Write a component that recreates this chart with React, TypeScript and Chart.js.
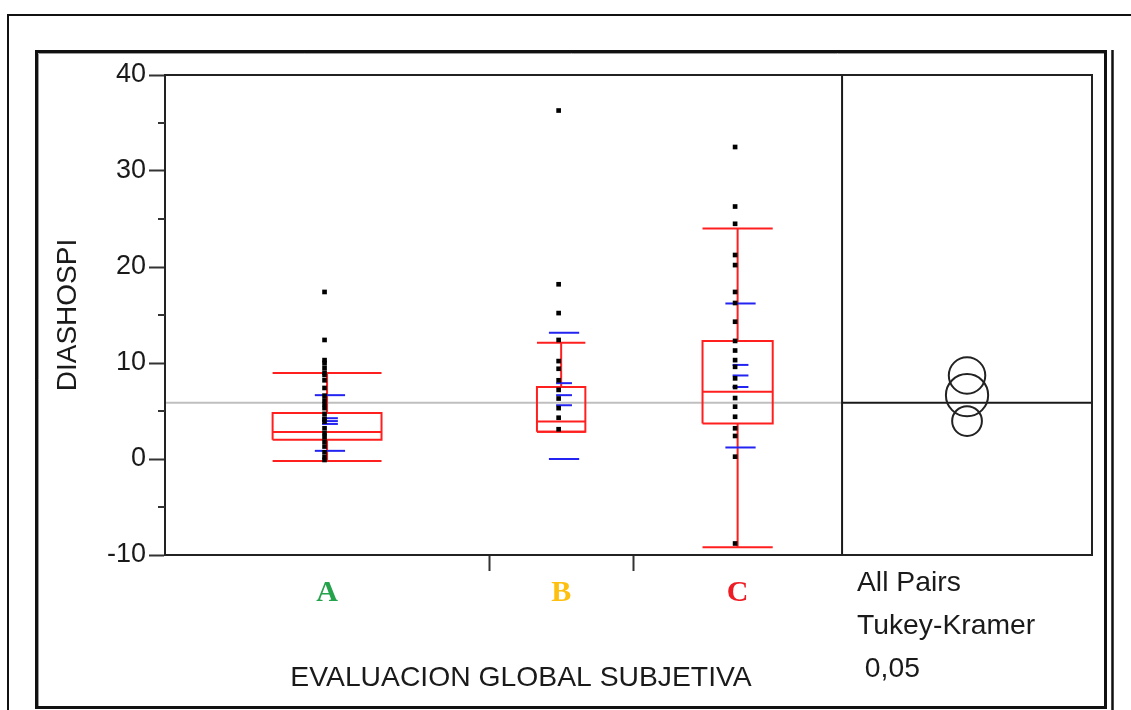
import React, { useEffect, useRef } from 'react';
import { Chart, registerables } from 'chart.js';

Chart.register(...registerables);

// ---------- data ----------
const categories = ['A', 'B', 'C'];
const categoryColors = ['#25a24c', '#fdc010', '#ee1d25'];
// relative x extent of each group (JMP scales group width by sample size)
const groupWidths = [45, 20, 29];
const circlePanelWidth = 34.7;

const yMin = -10;
const yMax = 40;
const yMajorStep = 10;
const yMinorTicks = [-5, 5, 15, 25, 35];

const pointsA = [17.4, 12.4, 10.3, 10.0, 9.5, 9.0, 8.75, 8.2, 7.4, 6.6, 6.1, 5.7, 5.3, 4.7, 4.2, 3.9, 3.2, 2.7, 2.3, 1.8, 1.3, 0.7, 0.2, -0.1];
const pointsB = [36.3, 18.2, 15.2, 12.4, 10.2, 9.4, 8.2, 7.2, 6.3, 5.3, 4.3, 3.1];
const pointsC = [32.5, 26.3, 24.5, 21.25, 20.2, 17.4, 16.25, 14.3, 12.3, 11.3, 10.3, 9.6, 8.4, 7.5, 6.35, 5.45, 4.4, 3.2, 2.4, 0.24, -8.8];
const groupPoints = [pointsA, pointsB, pointsC];

const q1 = [2.0, 2.85, 3.7];
const medians = [2.8, 3.9, 7.0];
const q3 = [4.8, 7.5, 12.3];
const whiskerLow = [-0.2, 2.85, -9.2];
const whiskerHigh = [8.95, 12.1, 24.0];
const means = [3.95, 6.65, 8.7];
const meanErrLow = [3.65, 5.6, 7.5];
const meanErrHigh = [4.25, 7.9, 9.8];
const stdLow = [0.85, 0.0, 1.2];
const stdHigh = [6.65, 13.15, 16.2];
const circleRadii = [1.55, 2.2, 1.9];
const grandMean = 5.86;

const xTitle = 'EVALUACION GLOBAL SUBJETIVA';
const yTitle = 'DIASHOSPI';
const compareLines = ['All Pairs', 'Tukey-Kramer', ' 0,05'];

// ---------- derived layout in data units ----------
const groupStarts = groupWidths.map((_, i) => groupWidths.slice(0, i).reduce((a, b) => a + b, 0));
const groupCenters = groupWidths.map((w, i) => groupStarts[i] + w / 2);
const groupsEnd = groupWidths.reduce((a, b) => a + b, 0);
const groupBoundaries = groupStarts.slice(1);
const xMax = groupsEnd + circlePanelWidth;
const panelCenter = groupsEnd + circlePanelWidth / 2;

const RED = '#ff1f1f';
const BLUE = '#2424f2';
const FONT = '"Liberation Sans", Arial, sans-serif';

function seg(pts: { x: number; y: number }[], color: string, width: number, order: number) {
  return {
    type: 'line' as const,
    data: pts,
    borderColor: color,
    backgroundColor: color,
    borderWidth: width,
    pointRadius: 0,
    showLine: true,
    fill: false,
    tension: 0,
    order,
  };
}

function buildDatasets() {
  const ds: any[] = [];
  categories.forEach((_, i) => {
    const c = groupCenters[i];
    const hw = groupWidths[i] * 0.168;
    // box
    ds.push(seg([
      { x: c - hw, y: q1[i] }, { x: c + hw, y: q1[i] }, { x: c + hw, y: q3[i] },
      { x: c - hw, y: q3[i] }, { x: c - hw, y: q1[i] },
    ], RED, 2, 3));
    ds.push(seg([{ x: c - hw, y: medians[i] }, { x: c + hw, y: medians[i] }], RED, 2, 3));
    ds.push(seg([{ x: c, y: q3[i] }, { x: c, y: whiskerHigh[i] }], RED, 2, 3));
    ds.push(seg([{ x: c, y: q1[i] }, { x: c, y: whiskerLow[i] }], RED, 2, 3));
    ds.push(seg([{ x: c - hw, y: whiskerHigh[i] }, { x: c + hw, y: whiskerHigh[i] }], RED, 2, 3));
    ds.push(seg([{ x: c - hw, y: whiskerLow[i] }, { x: c + hw, y: whiskerLow[i] }], RED, 2, 3));
    // blue mean / std lines
    const bc = c + 0.4;
    const sw = 2.1;
    const ew = 1.1;
    ds.push(seg([{ x: bc - sw, y: stdHigh[i] }, { x: bc + sw, y: stdHigh[i] }], BLUE, 2, 2));
    ds.push(seg([{ x: bc - sw, y: stdLow[i] }, { x: bc + sw, y: stdLow[i] }], BLUE, 2, 2));
    ds.push(seg([{ x: bc - ew, y: means[i] }, { x: bc + ew, y: means[i] }], BLUE, 2, 2));
    ds.push(seg([{ x: bc - ew, y: meanErrHigh[i] }, { x: bc + ew, y: meanErrHigh[i] }], BLUE, 2, 2));
    ds.push(seg([{ x: bc - ew, y: meanErrLow[i] }, { x: bc + ew, y: meanErrLow[i] }], BLUE, 2, 2));
    // points
    ds.push({
      type: 'scatter' as const,
      data: groupPoints[i].map((v) => ({ x: c - 0.35, y: v })),
      pointStyle: 'rect',
      pointRadius: 3.3,
      pointBackgroundColor: '#000',
      pointBorderWidth: 0,
      showLine: false,
      order: 0,
    });
  });
  // grand mean lines
  ds.push(seg([{ x: 0, y: grandMean }, { x: groupsEnd, y: grandMean }], '#bfbfbf', 2, 5));
  ds.push(seg([{ x: groupsEnd, y: grandMean }, { x: xMax, y: grandMean }], '#1a1a1a', 2, 4));
  // divider
  ds.push(seg([{ x: groupsEnd, y: yMin }, { x: groupsEnd, y: yMax }], '#1a1a1a', 2, 4));
  // comparison circles
  ds.push({
    type: 'scatter' as const,
    data: means.map((m) => ({ x: panelCenter, y: m })),
    pointStyle: 'circle',
    pointRadius: (ctx: any) => {
      const y = ctx.chart.scales.y;
      const r = circleRadii[ctx.dataIndex] ?? 0;
      return Math.abs(y.getPixelForValue(0) - y.getPixelForValue(r));
    },
    pointBackgroundColor: 'rgba(0,0,0,0)',
    pointBorderColor: '#222',
    pointBorderWidth: 2,
    showLine: false,
    order: 1,
  });
  return ds;
}

const decorPlugin = {
  id: 'decor',
  beforeDraw(chart: any) {
    const { ctx, width, height } = chart;
    ctx.save();
    ctx.fillStyle = '#ffffff';
    ctx.fillRect(0, 0, width, height);
    // outer frame
    ctx.strokeStyle = '#111';
    ctx.lineWidth = 2;
    ctx.beginPath();
    ctx.moveTo(8, height);
    ctx.lineTo(8, 15);
    ctx.lineTo(width, 15);
    ctx.stroke();
    // inner frame
    ctx.lineWidth = 3;
    ctx.strokeRect(36.5, 51.5, 1069, 656);
    ctx.strokeStyle = '#9a9a9a';
    ctx.lineWidth = 1;
    ctx.beginPath();
    ctx.moveTo(38.5, 706);
    ctx.lineTo(38.5, 53.5);
    ctx.lineTo(1104, 53.5);
    ctx.stroke();
    ctx.strokeStyle = '#111';
    ctx.lineWidth = 2.5;
    ctx.beginPath();
    ctx.moveTo(1112.5, 50);
    ctx.lineTo(1112.5, height);
    ctx.stroke();
    ctx.restore();
  },
  afterDraw(chart: any) {
    const { ctx, chartArea } = chart;
    const y = chart.scales.y;
    ctx.save();
    // plot frame
    ctx.strokeStyle = '#222';
    ctx.lineWidth = 2;
    ctx.strokeRect(chartArea.left, chartArea.top, chartArea.right - chartArea.left, chartArea.bottom - chartArea.top);
    // minor y ticks
    ctx.strokeStyle = '#333';
    ctx.lineWidth = 2;
    yMinorTicks.forEach((v) => {
      const py = Math.round(y.getPixelForValue(v));
      ctx.beginPath();
      ctx.moveTo(chartArea.left - 7, py);
      ctx.lineTo(chartArea.left, py);
      ctx.stroke();
    });
    // texts
    ctx.fillStyle = '#1a1a1a';
    ctx.font = `28.3px ${FONT}`;
    ctx.textBaseline = 'alphabetic';
    ctx.textAlign = 'center';
    ctx.fillText(xTitle, 521, 686);
    ctx.textAlign = 'left';
    ctx.fillText(compareLines[0], 857, 591);
    ctx.fillText(compareLines[1], 857, 634);
    ctx.fillText(compareLines[2], 857, 677);
    ctx.restore();
  },
};

export default function App() {
  const canvasRef = useRef<HTMLCanvasElement | null>(null);

  useEffect(() => {
    if (!canvasRef.current) return;
    const chart = new Chart(canvasRef.current, {
      type: 'scatter',
      data: { datasets: buildDatasets() },
      options: {
        animation: false,
        responsive: false,
        devicePixelRatio: 1,
        events: [],
        layout: { padding: { left: 0, top: 75, right: 39, bottom: 0 } },
        plugins: { legend: { display: false }, tooltip: { enabled: false } },
        scales: {
          x: {
            type: 'linear',
            position: 'bottom',
            weight: 0,
            min: 0,
            max: xMax,
            afterBuildTicks: (axis: any) => {
              axis.ticks = groupBoundaries.map((v) => ({ value: v }));
            },
            afterFit: (axis: any) => {
              axis.height = 16;
            },
            ticks: { display: false },
            grid: { display: true, drawOnChartArea: false, drawTicks: true, tickLength: 16, tickWidth: 2, tickColor: '#333' },
            border: { display: true, color: '#222', width: 2 },
          },
          xCat: {
            type: 'linear',
            position: 'bottom',
            weight: 1,
            min: 0,
            max: xMax,
            afterBuildTicks: (axis: any) => {
              axis.ticks = groupCenters.map((v) => ({ value: v }));
            },
            afterFit: (axis: any) => {
              axis.height = 710 - 555 - 16;
            },
            ticks: {
              autoSkip: false,
              maxRotation: 0,
              padding: -4,
              callback: (_v: any, i: number) => categories[i],
              color: (ctx: any) => categoryColors[ctx.index] ?? '#000',
              font: { family: '"Liberation Serif", "Times New Roman", serif', size: 30, weight: 'bold' },
            },
            grid: { display: false },
            border: { display: false },
          },
          y: {
            type: 'linear',
            position: 'left',
            min: yMin,
            max: yMax,
            afterFit: (axis: any) => {
              axis.width = 165;
            },
            ticks: {
              stepSize: yMajorStep,
              padding: 3,
              color: '#1a1a1a',
              font: { family: FONT, size: 27 },
            },
            grid: { display: true, drawOnChartArea: false, drawTicks: true, tickLength: 16, tickWidth: 2, tickColor: '#333' },
            border: { display: true, color: '#222', width: 2 },
            title: {
              display: true,
              text: yTitle,
              color: '#1a1a1a',
              font: { family: FONT, size: 28 },
              padding: { top: 51, bottom: 0 },
            },
          },
        },
      },
      plugins: [decorPlugin],
    } as any);
    return () => chart.destroy();
  }, []);

  return (
    <div style={{ position: 'fixed', left: 0, top: 0, width: 1131, height: 710, background: '#fff' }}>
      <canvas ref={canvasRef} width={1131} height={710} style={{ display: 'block' }} />
    </div>
  );
}
